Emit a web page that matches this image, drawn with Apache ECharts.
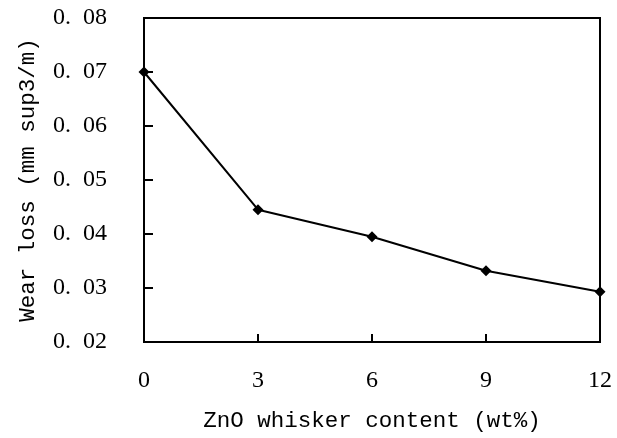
<!DOCTYPE html>
<html>
<head>
<meta charset="utf-8">
<script src="https://cdn.jsdelivr.net/npm/echarts@6/dist/echarts.min.js"></script>
<style>html,body{margin:0;padding:0;background:#fff}#c{width:617px;height:438px}</style>
</head>
<body>
<div id="c"></div>
<script>
var xValues = [0, 3, 6, 9, 12];
var wearLoss = [0.0700, 0.0445, 0.0395, 0.0332, 0.0293];
var xTitle = 'ZnO whisker content (wt%)';
var yTitle = 'Wear loss (mm sup3/m)';

var chart = echarts.init(document.getElementById('c'));
var data = xValues.map(function (x, i) { return [x, wearLoss[i]]; });
chart.setOption({
  backgroundColor: '#fff',
  animation: false,
  grid: { left: 144, right: 17, top: 18, bottom: 92, show: true, borderColor: '#000', borderWidth: 2 },
  xAxis: {
    type: 'value', min: 0, max: 12, interval: 3,
    name: xTitle, nameLocation: 'middle', nameGap: 68,
    nameTextStyle: { fontFamily: 'Liberation Mono', fontSize: 22.5, color: '#000' },
    axisLine: { show: true, lineStyle: { color: '#000', width: 2 } },
    axisTick: { show: true, inside: true, length: 8, lineStyle: { color: '#000', width: 2 } },
    axisLabel: { margin: 27, fontFamily: 'Liberation Serif', fontSize: 24, color: '#000' },
    splitLine: { show: false }
  },
  yAxis: {
    type: 'value', min: 0.02, max: 0.08, interval: 0.01,
    name: yTitle, nameLocation: 'middle', nameGap: 104,
    nameTextStyle: { fontFamily: 'Liberation Mono', fontSize: 22.5, color: '#000' },
    axisLine: { show: true, lineStyle: { color: '#000', width: 2 } },
    axisTick: { show: true, inside: true, length: 9, lineStyle: { color: '#000', width: 2 } },
    axisLabel: {
      margin: 37, fontFamily: 'Liberation Serif', fontSize: 24, color: '#000',
      formatter: function (v) { return v.toFixed(2).replace('.', '.\u2007'); }
    },
    splitLine: { show: false }
  },
  series: [{
    type: 'line', data: data,
    symbol: 'diamond', symbolSize: 11,
    lineStyle: { color: '#000', width: 2 },
    itemStyle: { color: '#000' }
  }]
});
</script>
</body>
</html>
